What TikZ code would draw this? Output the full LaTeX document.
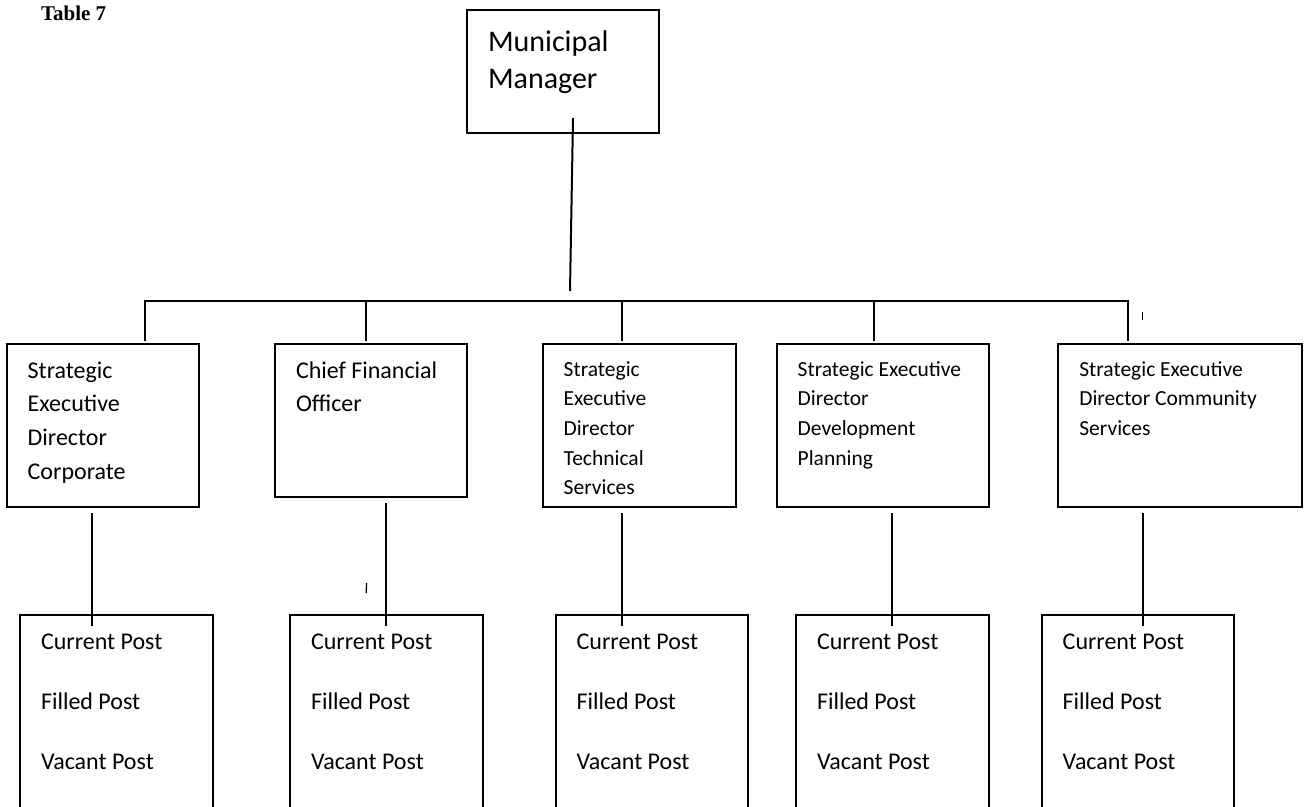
\documentclass[tikz,border=0pt]{standalone}
\usepackage{fontspec}
\setmainfont{Carlito}
\newfontfamily\serifhead{Liberation Serif}
\usetikzlibrary{calc}

\begin{document}
\begin{tikzpicture}[x=1pt,y=-1pt,line width=2pt,
    orgbox/.style={draw,anchor=north west,inner xsep=21pt,inner ysep=0pt,outer sep=0pt,align=flush left},
    headbox/.style={orgbox,font=\fontsize{30}{36.7}\selectfont,text height=41.7pt},
    deptbox/.style={orgbox,font=\fontsize{24}{33.7}\selectfont,text height=34pt},
    deptsmall/.style={orgbox,font=\fontsize{21.5}{29.7}\selectfont,text height=32pt},
    postbox/.style={orgbox,font=\fontsize{24}{60.3}\selectfont,text width=150.5pt,text height=34.3pt,text depth=170pt}]
    \useasboundingbox (0,0) rectangle (1306,806);
    \clip (0,0) rectangle (1306,806);

    \node[anchor=base west,inner sep=0pt,font=\serifhead\bfseries\fontsize{21}{25}\selectfont] (caption) at (40,20) {Table 7};

    % top of the tree
    \node[headbox,text width=150pt,text depth=81.3pt] (mm) at (467,10) {Municipal\\Manager};

    % directorates
    \node[deptbox,text width=150.3pt,text depth=128.7pt] (sed1) at (6.7,344) {Strategic\\Executive\\Director\\Corporate};
    \node[deptbox,text width=150pt,text depth=118.7pt] (cfo) at (275,344) {Chief Financial\\Officer};
    \node[deptsmall,text width=151pt,text depth=130.7pt] (sed2) at (542.7,344) {Strategic\\Executive\\Director\\Technical\\Services};
    \node[deptsmall,text width=170.3pt,text depth=130.7pt] (sed3) at (776.7,344) {Strategic Executive\\Director\\Development\\Planning};
    \node[deptsmall,text width=201.4pt,text depth=130.7pt] (sed4) at (1058.3,344) {Strategic Executive\\Director Community\\Services};

    % posts under each directorate
    \node[postbox] (post1) at (20,615) {Current Post\\Filled Post\\Vacant Post};
    \node[postbox] (post2) at (290,615) {Current Post\\Filled Post\\Vacant Post};
    \node[postbox] (post3) at (555.7,615) {Current Post\\Filled Post\\Vacant Post};
    \node[postbox] (post4) at (796,615) {Current Post\\Filled Post\\Vacant Post};
    \node[postbox] (post5) at (1041.7,615) {Current Post\\Filled Post\\Vacant Post};

    % bus line
    \coordinate (busL) at (145,301);
    \coordinate (busR) at (1128.3,301);
    \draw ($(mm.south)+(10,-15)$) -- ($(busL -| 570,0)+(0,-10)$);
    \draw ($(busL |- sed1.north)+(0,-3)$) -- (busL) -- (busR) -- ($(busR |- sed4.north)+(0,-3)$);
    \foreach \x/\b in {366/cfo,622.3/sed2,874/sed3}
        \draw (\x,301) -- ($(\x,0 |- \b.north)+(0,-3)$);

    \foreach \x/\up/\down in {92/sed1/post1,386.3/cfo/post2,622.3/sed2/post3,892.3/sed3/post4,1143/sed4/post5}
        \draw ($(\x,0 |- \up.south)+(0,6.5)$) -- ($(\x,0 |- \down.north)+(0,11)$);

    % stray marks
    \draw[line width=1.2pt] (1142.7,312) -- (1142.7,320);
    \draw[line width=1.3pt] (366.6,583) -- (366.2,593);
\end{tikzpicture}
\end{document}
